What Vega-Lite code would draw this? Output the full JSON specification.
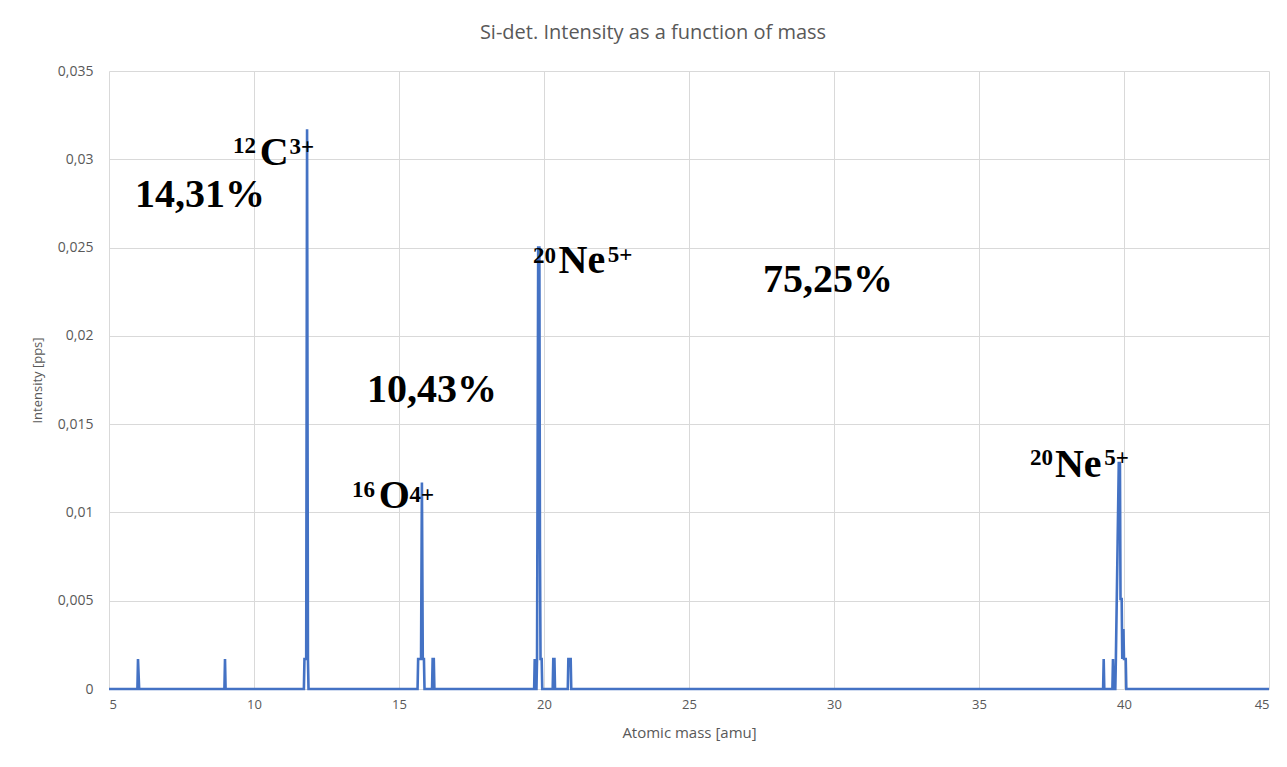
{
  "$schema": "https://vega.github.io/schema/vega-lite/v6.json",
  "width": 1160,
  "height": 618,
  "autosize": {"type": "none"},
  "padding": {"left": 109, "top": 71, "right": 18, "bottom": 78},
  "background": "white",
  "config": {"view": {"stroke": null}},
  "title": {
    "text": "Si-det. Intensity as a function of mass",
    "font": "Open Sans",
    "fontSize": 20,
    "fontWeight": "normal",
    "color": "#595959",
    "offset": 21,
    "dx": -36
  },
  "datasets": {
    "spectrum": [
      {"m": 5, "i": 0},
      {"m": 5.98, "i": 0},
      {"m": 6.0, "i": 0.0017},
      {"m": 6.04, "i": 0},
      {"m": 8.98, "i": 0},
      {"m": 9.0, "i": 0.0017},
      {"m": 9.02, "i": 0},
      {"m": 11.72, "i": 0},
      {"m": 11.74, "i": 0.0017},
      {"m": 11.8, "i": 0.0017},
      {"m": 11.83, "i": 0.0317},
      {"m": 11.86, "i": 0.0017},
      {"m": 11.88, "i": 0},
      {"m": 15.64, "i": 0},
      {"m": 15.66, "i": 0.0017},
      {"m": 15.72, "i": 0.0017},
      {"m": 15.76, "i": 0.0017},
      {"m": 15.79, "i": 0.0117},
      {"m": 15.82, "i": 0.0017},
      {"m": 15.86, "i": 0.0017},
      {"m": 15.88, "i": 0},
      {"m": 16.14, "i": 0},
      {"m": 16.16, "i": 0.0017},
      {"m": 16.2, "i": 0.0017},
      {"m": 16.22, "i": 0},
      {"m": 19.66, "i": 0},
      {"m": 19.68, "i": 0.0017},
      {"m": 19.7, "i": 0},
      {"m": 19.74, "i": 0},
      {"m": 19.76, "i": 0.0017},
      {"m": 19.8, "i": 0.025},
      {"m": 19.84, "i": 0.025},
      {"m": 19.86, "i": 0.0083},
      {"m": 19.88, "i": 0.0017},
      {"m": 19.92, "i": 0.0017},
      {"m": 19.94, "i": 0},
      {"m": 20.3, "i": 0},
      {"m": 20.32, "i": 0.0017},
      {"m": 20.36, "i": 0.0017},
      {"m": 20.38, "i": 0},
      {"m": 20.82, "i": 0},
      {"m": 20.84, "i": 0.0017},
      {"m": 20.92, "i": 0.0017},
      {"m": 20.94, "i": 0},
      {"m": 39.28, "i": 0},
      {"m": 39.3, "i": 0.0017},
      {"m": 39.32, "i": 0},
      {"m": 39.6, "i": 0},
      {"m": 39.62, "i": 0.0017},
      {"m": 39.64, "i": 0},
      {"m": 39.7, "i": 0},
      {"m": 39.72, "i": 0.0017},
      {"m": 39.78, "i": 0.0083},
      {"m": 39.82, "i": 0.0128},
      {"m": 39.86, "i": 0.0128},
      {"m": 39.88, "i": 0.0051},
      {"m": 39.92, "i": 0.0051},
      {"m": 39.94, "i": 0.0017},
      {"m": 39.98, "i": 0.0034},
      {"m": 40.0, "i": 0.0017},
      {"m": 40.06, "i": 0.0017},
      {"m": 40.08, "i": 0},
      {"m": 45, "i": 0}
    ],
    "labels": [
      {"m": 5.9, "i": 0.0273, "t": "14,31%", "kind": "main"},
      {"m": 27.55, "i": 0.02248, "t": "75,25%", "kind": "main"},
      {"m": 13.9, "i": 0.01625, "t": "10,43%", "kind": "main"},
      {"m": 9.28, "i": 0.03035, "t": "12", "kind": "sup"},
      {"m": 10.2, "i": 0.02967, "t": "C", "kind": "main"},
      {"m": 11.22, "i": 0.03029, "t": "3+", "kind": "sup"},
      {"m": 19.62, "i": 0.02412, "t": "20", "kind": "sup"},
      {"m": 20.5, "i": 0.02356, "t": "Ne", "kind": "main"},
      {"m": 22.2, "i": 0.02418, "t": "5+", "kind": "sup"},
      {"m": 13.38, "i": 0.01087, "t": "16", "kind": "sup"},
      {"m": 14.3, "i": 0.01025, "t": "O", "kind": "main"},
      {"m": 15.36, "i": 0.01059, "t": "4+", "kind": "sup"},
      {"m": 36.76, "i": 0.01268, "t": "20", "kind": "sup"},
      {"m": 37.62, "i": 0.012, "t": "Ne", "kind": "main"},
      {"m": 39.32, "i": 0.01268, "t": "5+", "kind": "sup"}
    ]
  },
  "layer": [
    {
      "data": {"name": "spectrum"},
      "mark": {"type": "line", "color": "#4472C4", "strokeWidth": 2.6, "interpolate": "linear"},
      "encoding": {
        "x": {
          "field": "m", "type": "quantitative",
          "scale": {"domain": [5, 45], "nice": false, "zero": false},
          "axis": {
            "title": "Atomic mass [amu]",
            "values": [5, 10, 15, 20, 25, 30, 35, 40, 45],
            "grid": true, "gridColor": "#d9d9d9", "gridWidth": 1,
            "domain": false, "ticks": false,
            "labelFont": "Open Sans", "labelFontSize": 13, "labelColor": "#595959", "labelPadding": 9,
            "titleFont": "Open Sans", "titleFontSize": 15, "titleFontWeight": "normal", "titleColor": "#595959", "titlePadding": 14
          }
        },
        "y": {
          "field": "i", "type": "quantitative",
          "scale": {"domain": [0, 0.035], "nice": false},
          "axis": {
            "title": "Intensity [pps]",
            "values": [0, 0.005, 0.01, 0.015, 0.02, 0.025, 0.03, 0.035],
            "labelExpr": "replace(format(datum.value, '.3~f'), '.', ',')",
            "grid": true, "gridColor": "#d9d9d9", "gridWidth": 1,
            "domain": false, "ticks": false,
            "labelFont": "Open Sans", "labelFontSize": 14, "labelColor": "#595959", "labelPadding": 16,
            "titleFont": "Open Sans", "titleFontSize": 13, "titleFontWeight": "normal", "titleColor": "#595959", "titlePadding": 13
          }
        }
      }
    },
    {
      "data": {"name": "labels"},
      "transform": [{"filter": "datum.kind === 'main'"}],
      "mark": {"type": "text", "align": "left", "baseline": "alphabetic", "font": "Liberation Serif", "fontWeight": "bold", "fontSize": 40, "color": "black"},
      "encoding": {
        "x": {"field": "m", "type": "quantitative"},
        "y": {"field": "i", "type": "quantitative"},
        "text": {"field": "t"}
      }
    },
    {
      "data": {"name": "labels"},
      "transform": [{"filter": "datum.kind === 'sup'"}],
      "mark": {"type": "text", "align": "left", "baseline": "alphabetic", "font": "Liberation Serif", "fontWeight": "bold", "fontSize": 23, "color": "black"},
      "encoding": {
        "x": {"field": "m", "type": "quantitative"},
        "y": {"field": "i", "type": "quantitative"},
        "text": {"field": "t"}
      }
    }
  ]
}
